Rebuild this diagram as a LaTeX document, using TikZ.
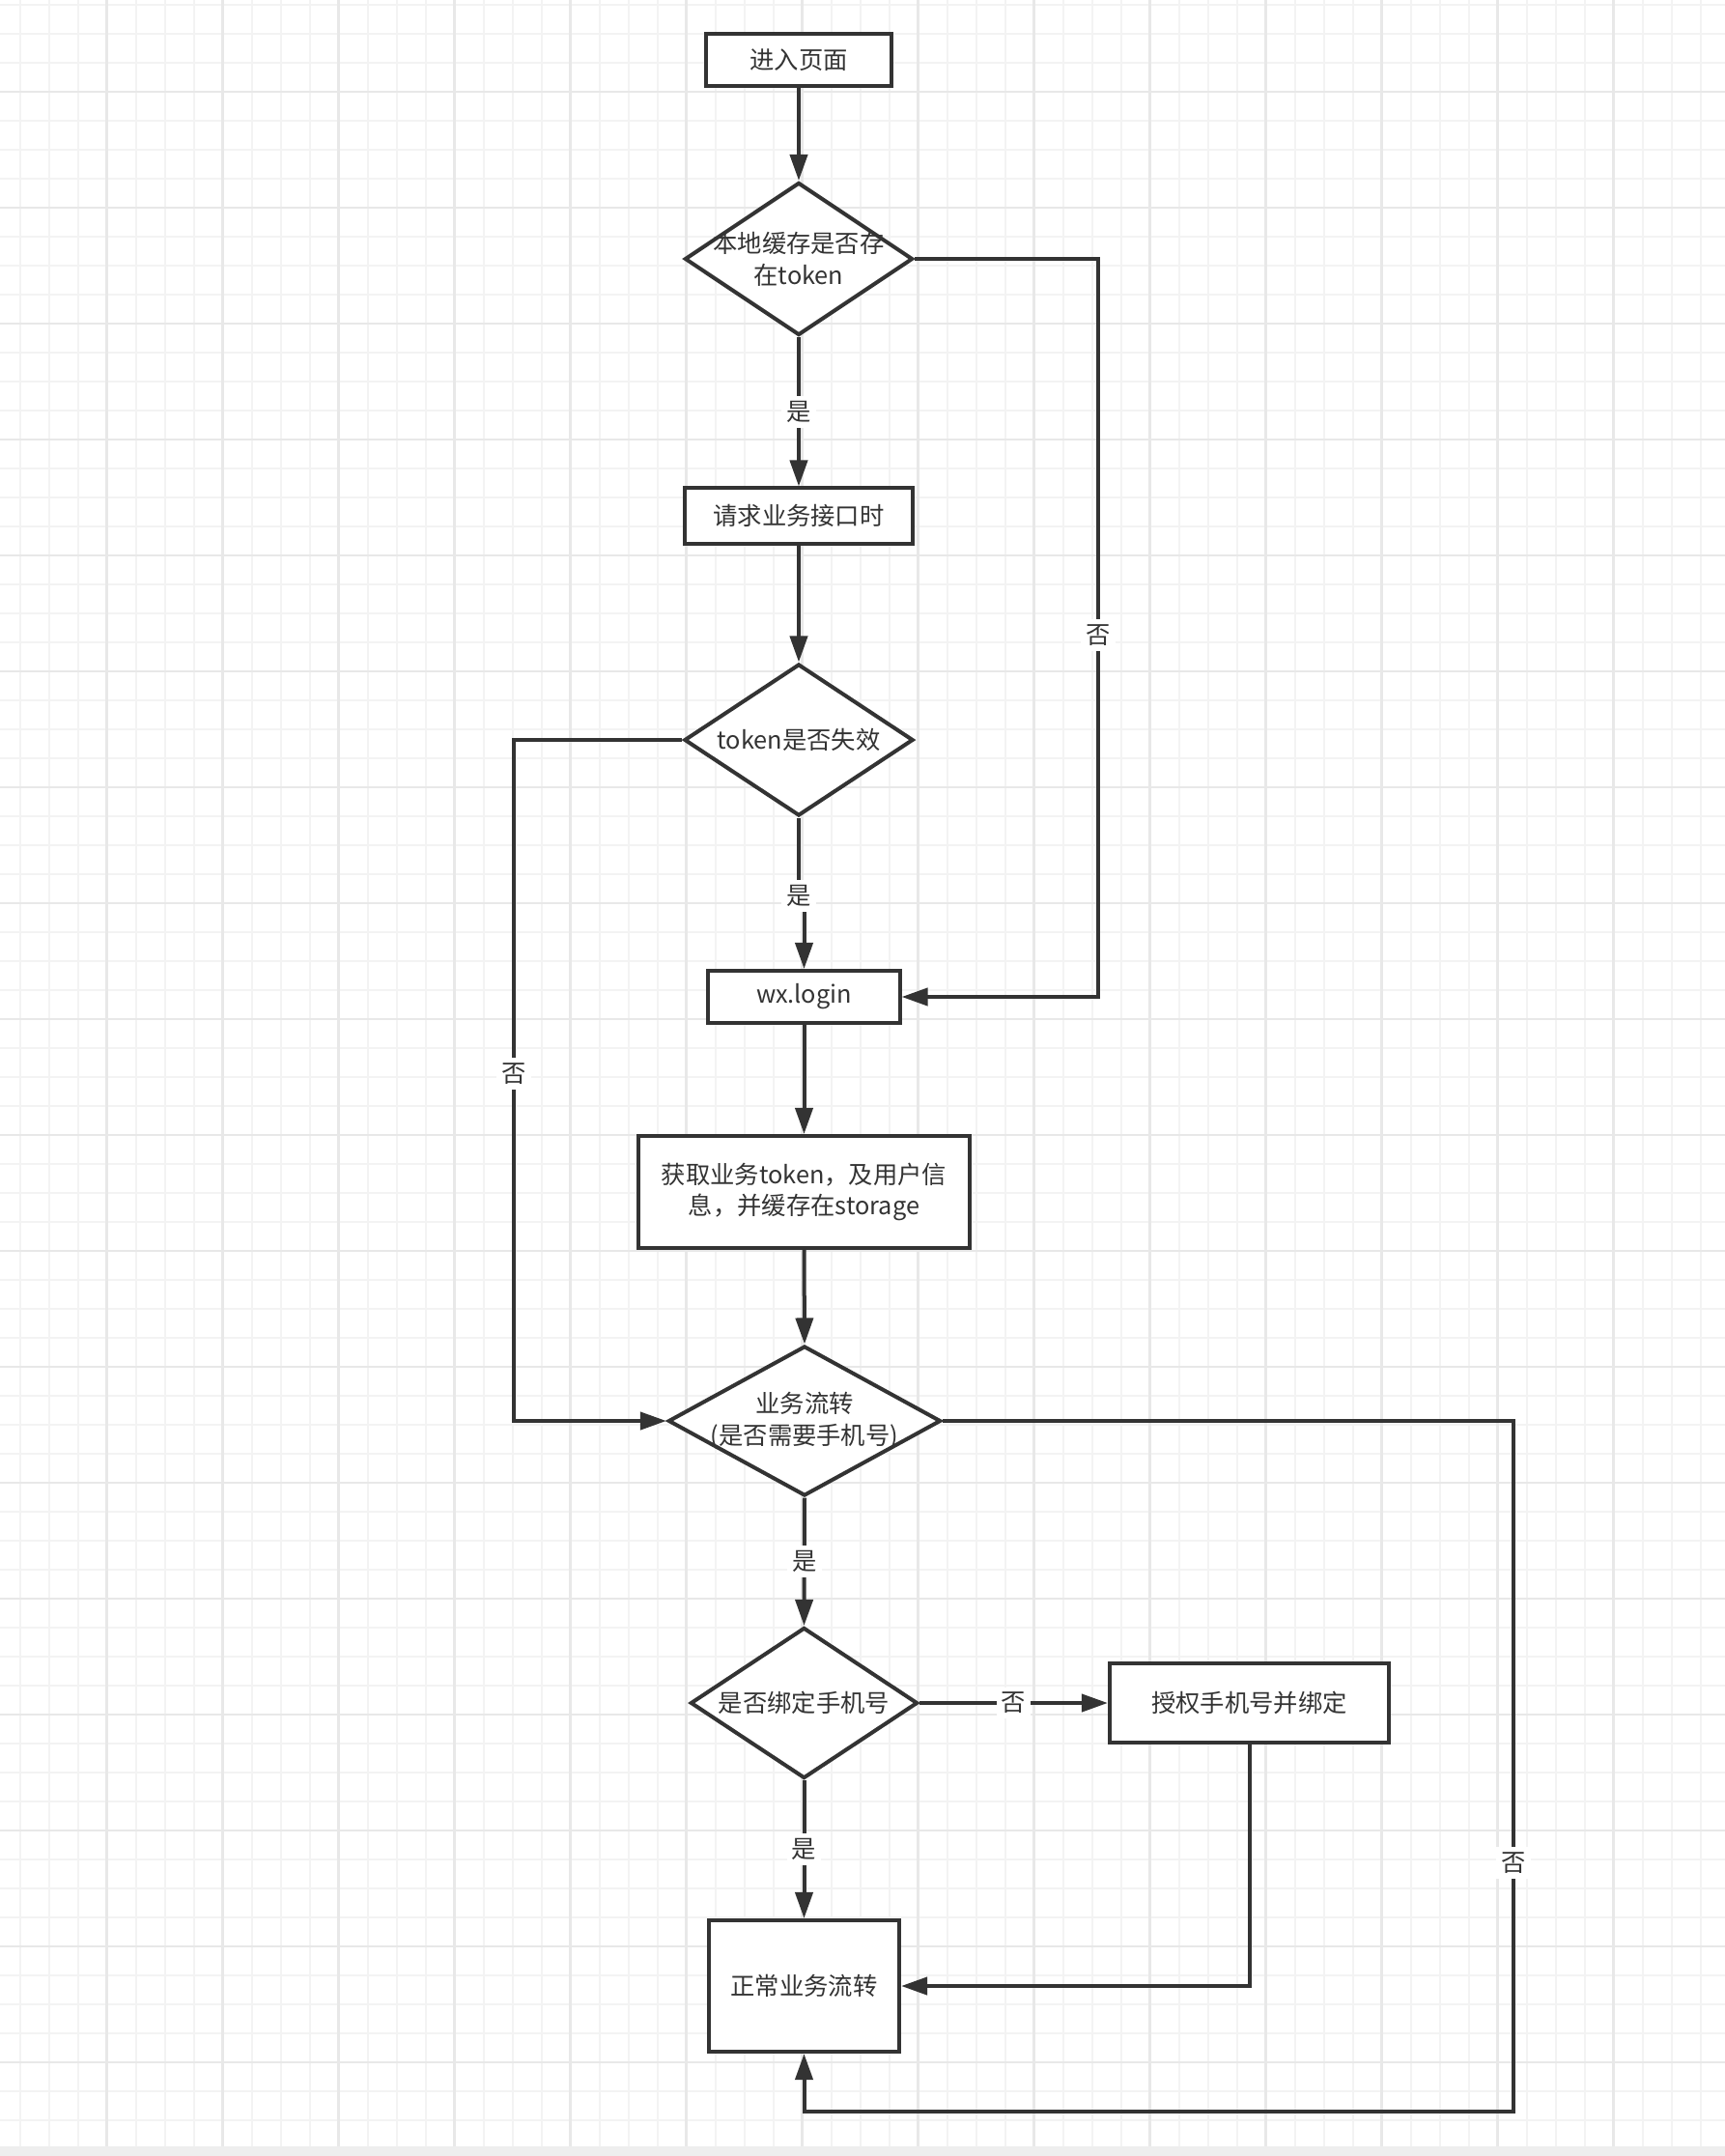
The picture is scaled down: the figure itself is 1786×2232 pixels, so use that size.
\documentclass[tikz,border=0pt]{standalone}
\usepackage{fontspec}
\newfontfamily\cjkfont{Noto Sans CJK SC}
\usetikzlibrary{shapes.geometric,arrows.meta}

\definecolor{ink}{HTML}{333333}
\definecolor{grid minor}{HTML}{F3F3F3}
\definecolor{grid major}{HTML}{E8E8E8}
\definecolor{page bar}{HTML}{EEEEEE}

\tikzset{
    x=0.01cm,y=-0.01cm,
    flow text/.style={
        font=\cjkfont\fontsize{7.2pt}{9.3pt}\selectfont,
        text=ink,align=center
    },
    flow box/.style={
        draw=ink,line width=0.04cm,
        fill=white,inner sep=0pt,
        flow text
    },
    flow decision/.style={
        diamond,draw=ink,line width=0.04cm,
        fill=white,inner sep=0pt
    },
    flow line/.style={
        draw=ink,line width=0.04cm,
        -{Triangle[length=0.27cm,width=0.18cm]}
    },
    edge label/.style={fill=white,inner sep=1.5pt,flow text}
}

\begin{document}
\begin{tikzpicture}
        \useasboundingbox (0,0) rectangle (1786,2232);
        % paper grid
        \fill[white] (0,0) rectangle (1786,2232);
        \foreach \x in {20.7,50.7,...,1786}
            \draw[grid minor,line width=0.02cm] (\x,0) -- (\x,2222);
        \foreach \y in {5,35,...,2222}
            \draw[grid minor,line width=0.02cm] (0,\y) -- (1786,\y);
        \foreach \x in {110.7,230.7,...,1786}
            \draw[grid major,line width=0.025cm] (\x,0) -- (\x,2222);
        \foreach \y in {95,215,...,2222}
            \draw[grid major,line width=0.025cm] (0,\y) -- (1786,\y);
        \fill[page bar] (0,2222) rectangle (1786,2232);

        % steps
        \node[flow box,minimum width=1.92cm,minimum height=0.53cm] (enter) at (827,62) {进入页面};
        \node[flow decision,minimum width=2.36cm,minimum height=1.58cm] (cache) at (827,268) {};
        \node[flow text] (cache text) at (cache) {本地缓存是否存\\在token};
        \node[flow box,minimum width=2.35cm,minimum height=0.57cm] (request) at (827,534) {请求业务接口时};
        \node[flow decision,minimum width=2.37cm,minimum height=1.57cm] (expired) at (827,766) {};
        \node[flow text] (expired text) at (expired) {token是否失效};
        \node[flow box,minimum width=1.98cm,minimum height=0.54cm] (login) at (832.5,1032) {wx.login};
        \node[flow box,minimum width=3.43cm,minimum height=1.16cm] (fetch) at (832.5,1234) {获取业务token，及用户信\\息，并缓存在storage};
        \node[flow decision,minimum width=2.82cm,minimum height=1.55cm] (needphone) at (833,1471) {};
        \node[flow text] (needphone text) at (needphone) {业务流转\\(是否需要手机号)};
        \node[flow decision,minimum width=2.35cm,minimum height=1.56cm] (bound) at (832.5,1763) {};
        \node[flow text] (bound text) at (bound) {是否绑定手机号};
        \node[flow box,minimum width=2.89cm,minimum height=0.82cm] (authorize) at (1293.5,1763) {授权手机号并绑定};
        \node[flow box,minimum width=1.97cm,minimum height=1.36cm] (normal) at (832.5,2056) {正常业务流转};

        % connectors
        \draw[flow line] (enter.south) -- (cache.north);
        \draw[flow line] (cache.south) -- node[edge label] (yes1) {是} (request.north);
        \draw[flow line] (request.south) -- (expired.north);
        \draw[flow line] (expired.south) -- ++(0,81) node[edge label] (yes2) {是} -| (login.north);
        \coordinate (cache right) at (1137,268);
        \draw[flow line] (cache.east) -- (cache right) -- node[edge label,pos=.51] (no1) {否} (cache right |- login.east) -- (login.east);
        \draw[flow line] (login.south) -- (fetch.north);
        \draw[flow line] (fetch.south) -- (needphone.north);
        \coordinate (expired left) at (532,766);
        \draw[flow line] (expired.west) -- (expired left) -- node[edge label,pos=.49] (no2) {否} (expired left |- needphone.west) -- (needphone.west);
        \draw[flow line] (needphone.south) -- node[edge label] (yes3) {是} (bound.north);
        \draw[flow line] (bound.east) -- node[edge label] (no3) {否} (authorize.west);
        \draw[flow line] (bound.south) -- node[edge label] (yes4) {是} (normal.north);
        \draw[flow line] (authorize.south) |- (normal.east);
        \coordinate (flow right) at (1567,1471);
        \coordinate (flow bottom) at (1567,2186);
        \draw[flow line] (needphone.east) -- (flow right) -- node[edge label,pos=.64] (no4) {否} (flow bottom) -- (normal.south |- flow bottom) -- (normal.south);
    \end{tikzpicture}
\end{document}
